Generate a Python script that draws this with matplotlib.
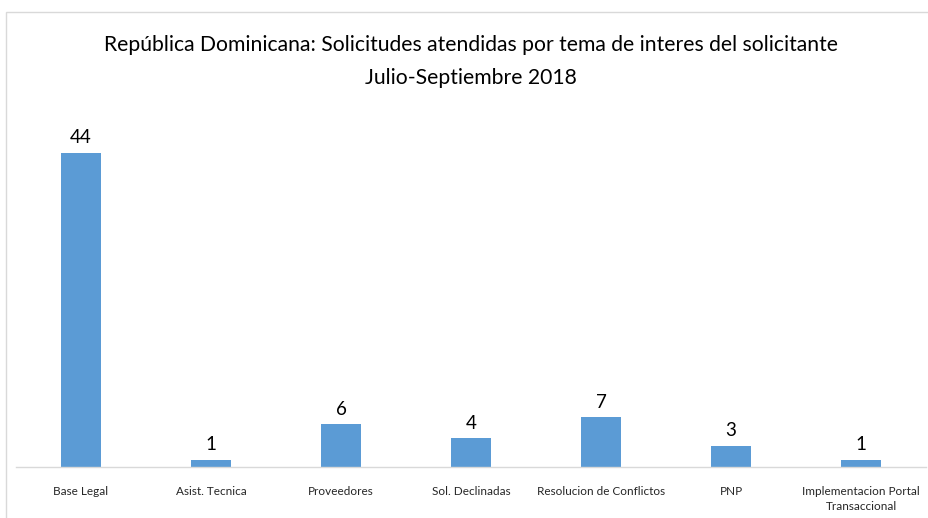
import matplotlib
matplotlib.use("Agg")
import matplotlib.pyplot as plt
from matplotlib.patches import Rectangle

plt.rcParams['font.family'] = ['Lato', 'DejaVu Sans']

# Data
categories = ["Base Legal", "Asist. Tecnica", "Proveedores", "Sol. Declinadas",
              "Resolucion de Conflictos", "PNP", "Implementacion Portal\nTransaccional"]
values = [44, 1, 6, 4, 7, 3, 1]
title_lines = ["República Dominicana: Solicitudes atendidas por tema de interes del solicitante",
               "Julio-Septiembre 2018"]

bar_color = "#5B9BD5"

fig = plt.figure(figsize=(9.29, 5.18), dpi=100)
W, H = 929, 518

# chart border (light gray frame)
fig.patches.append(Rectangle((6 / W, -0.01), 1.02, 1 - 12 / H + 0.01, transform=fig.transFigure,
                             fill=False, edgecolor="#d9d9d9", linewidth=1))

ax = fig.add_axes([16 / W, (H - 467) / H, 910 / W, (467 - 120) / H])
x = range(len(categories))
bars = ax.bar(x, values, width=0.31, color=bar_color)

for xi, v in zip(x, values):
    ax.text(xi, v + 0.9, str(v), ha="center", va="bottom", fontsize=13.5, color="#000000")

ax.set_xlim(-0.5, len(categories) - 0.5)
ax.set_ylim(0, 48.6)
ax.set_xticks(list(x))
ax.set_xticklabels(categories, fontsize=8.5, color="#262626", linespacing=1.35)
ax.tick_params(axis="x", length=0, pad=14)
ax.set_yticks([])
for s in ["top", "right", "left"]:
    ax.spines[s].set_visible(False)
ax.spines["bottom"].set_color("#d9d9d9")
ax.spines["bottom"].set_linewidth(1)

fig.text(471 / W, 1 - 45 / H, title_lines[0], ha="center", va="center", fontsize=15.2, color="#000000")
fig.text(471 / W, 1 - 78 / H, title_lines[1], ha="center", va="center", fontsize=15.2, color="#000000")

fig.savefig("out.png", dpi=100)
